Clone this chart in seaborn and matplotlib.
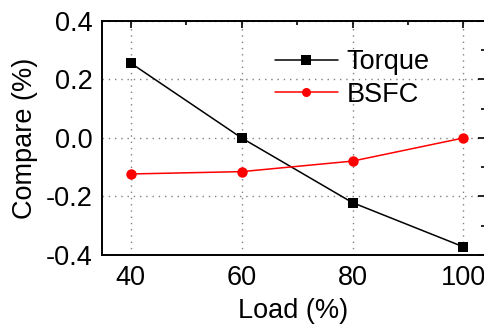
import matplotlib
matplotlib.use("Agg")
import matplotlib.pyplot as plt
from matplotlib.ticker import MultipleLocator
import seaborn as sns
import pandas as pd

load = [40, 60, 80, 100]
torque = [0.256, 0.0, -0.221, -0.372]
bsfc = [-0.123, -0.115, -0.079, 0.0]
series_names = ["Torque", "BSFC"]

df = pd.DataFrame({
    "Load": load * 2,
    "Compare": torque + bsfc,
    "Series": [series_names[0]] * len(load) + [series_names[1]] * len(load),
})

sns.set_style("white")
plt.rcParams["font.family"] = ["Liberation Sans", "DejaVu Sans"]
plt.rcParams["axes.unicode_minus"] = False
plt.rcParams["text.color"] = "black"
plt.rcParams["axes.labelcolor"] = "black"
plt.rcParams["xtick.color"] = "black"
plt.rcParams["ytick.color"] = "black"

FS = 19.5

fig = plt.figure(figsize=(4.84, 3.26), dpi=100)
ax = fig.add_axes([0.2107, 0.2178, 0.7913, 0.7178])

sns.lineplot(data=df, x="Load", y="Compare", hue="Series", style="Series",
             palette={"Torque": "black", "BSFC": "red"},
             markers={"Torque": "s", "BSFC": "o"}, dashes=False,
             markersize=7.5, linewidth=1.1, markeredgewidth=0, ax=ax)

ax.set_xlim(34.8, 103.9)
ax.set_ylim(-0.4, 0.4)
ax.xaxis.set_major_locator(MultipleLocator(20))
ax.xaxis.set_minor_locator(MultipleLocator(10))
ax.yaxis.set_major_locator(MultipleLocator(0.2))
ax.yaxis.set_minor_locator(MultipleLocator(0.1))
ax.yaxis.set_major_formatter(matplotlib.ticker.FormatStrFormatter("%.1f"))

ax.grid(True, which="major", linestyle=(0, (1, 3.5)), color="#808080", linewidth=1.0)
ax.set_axisbelow(True)
for s in ax.spines.values():
    s.set_color("black")
    s.set_linewidth(1.4)
ax.tick_params(which="both", direction="in", top=True, right=True,
               labelsize=FS, color="black", width=1.2, labelcolor="black")
ax.tick_params(which="major", length=5, pad=7)
ax.tick_params(which="minor", length=3)

ax.set_xlabel("Load (%)", fontsize=FS, labelpad=5)
ax.set_ylabel("Compare (%)", fontsize=FS, labelpad=5)

leg = ax.legend(title=None, frameon=False, fontsize=FS, loc="upper left",
                bbox_to_anchor=(0.423, 0.925), handlelength=2.33,
                handletextpad=0.33, labelspacing=0.23, borderaxespad=0)
for h in leg.legend_handles:
    h.set_markersize(6.5)

fig.savefig("out.png", dpi=100)
